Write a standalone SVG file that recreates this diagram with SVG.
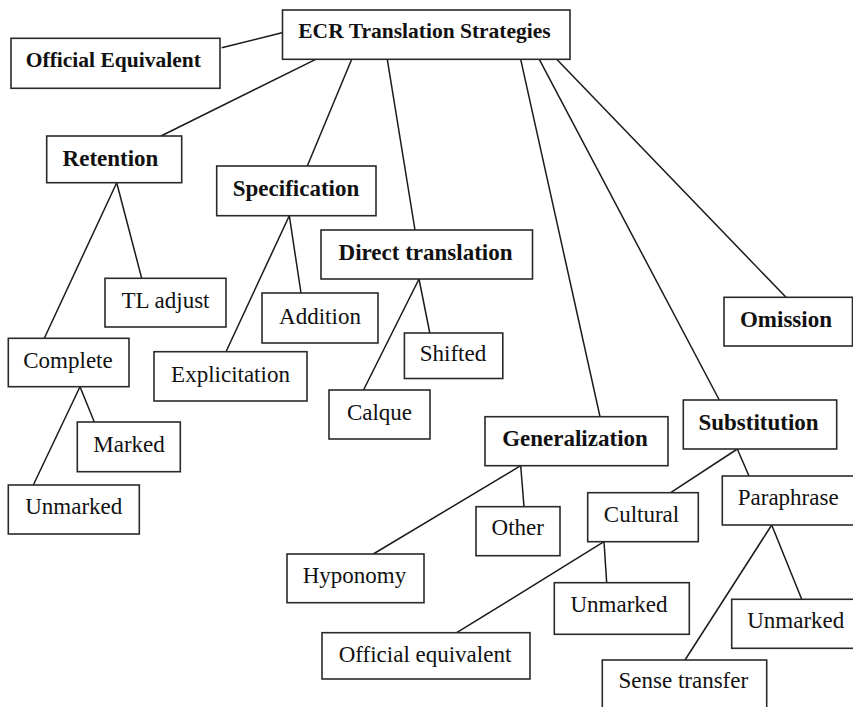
<svg xmlns="http://www.w3.org/2000/svg" width="853" height="707" viewBox="0 0 853 707">
<style>
  rect.box { fill: #ffffff; stroke: #2a2a2a; stroke-width: 1.6; }
  text { font-family: "Liberation Serif", "Times New Roman", serif; font-size: 23px; fill: #111111; text-anchor: middle; }
  text.b { font-weight: bold; }
  text.t { font-size: 21.5px; }
  #connectors line { stroke: #1a1a1a; stroke-width: 1.5; }
</style>
<rect x="0" y="0" width="853" height="707" fill="#ffffff"/>
<g id="connectors">
  <line x1="221.7" y1="47.7" x2="284" y2="32.3"/>
  <line x1="315.7" y1="59.3" x2="161" y2="136"/>
  <line x1="351.7" y1="59.3" x2="307.3" y2="166"/>
  <line x1="387.3" y1="59.3" x2="415" y2="230"/>
  <line x1="520.7" y1="59.3" x2="600" y2="416.7"/>
  <line x1="539.3" y1="59.3" x2="719.3" y2="400"/>
  <line x1="556.7" y1="59.3" x2="786" y2="297.3"/>
  <line x1="116.7" y1="182.7" x2="44.3" y2="338.3"/>
  <line x1="116.7" y1="182.7" x2="141.7" y2="278.3"/>
  <line x1="289.3" y1="215.7" x2="226" y2="351.7"/>
  <line x1="289.3" y1="215.7" x2="301" y2="293"/>
  <line x1="419" y1="279" x2="363.5" y2="390"/>
  <line x1="419" y1="279" x2="429.8" y2="333"/>
  <line x1="80" y1="386.7" x2="33.3" y2="485"/>
  <line x1="80" y1="386.7" x2="94.3" y2="422"/>
  <line x1="520.7" y1="465.7" x2="373.3" y2="554"/>
  <line x1="520.7" y1="465.7" x2="524" y2="506.7"/>
  <line x1="737.3" y1="449" x2="670.7" y2="492.7"/>
  <line x1="737.3" y1="449" x2="749" y2="476"/>
  <line x1="604" y1="541.7" x2="456.7" y2="632.7"/>
  <line x1="604" y1="541.7" x2="606.7" y2="582.7"/>
  <line x1="771.7" y1="525" x2="685" y2="660"/>
  <line x1="771.7" y1="525" x2="801.7" y2="599.3"/>
</g>
<g id="node-ecr"><rect class="box" x="282.5" y="10" width="287.5" height="49.3"/><text class="b t" x="424.5" y="37.5">ECR Translation Strategies</text></g>
<g id="node-official-equivalent-top"><rect class="box" x="11" y="38.3" width="209" height="50"/><text class="b t" x="113.3" y="66.7">Official Equivalent</text></g>
<g id="node-retention"><rect class="box" x="46.7" y="136" width="135" height="46.7"/><text class="b" x="110.5" y="165.7">Retention</text></g>
<g id="node-specification"><rect class="box" x="216.7" y="166" width="159.3" height="49.7"/><text class="b" x="296" y="196">Specification</text></g>
<g id="node-direct-translation"><rect class="box" x="321" y="230" width="211.5" height="49"/><text class="b" x="425.5" y="260">Direct translation</text></g>
<g id="node-tl-adjust"><rect class="box" x="105" y="278.3" width="121" height="48.7"/><text x="165.5" y="308.3">TL adjust</text></g>
<g id="node-addition"><rect class="box" x="262" y="293" width="116" height="50"/><text x="320" y="323.5">Addition</text></g>
<g id="node-omission"><rect class="box" x="724" y="297.3" width="128.5" height="48.7"/><text class="b" x="786" y="326.7">Omission</text></g>
<g id="node-complete"><rect class="box" x="8.3" y="338.3" width="120.7" height="48.4"/><text x="68" y="368.3">Complete</text></g>
<g id="node-shifted"><rect class="box" x="404.4" y="333" width="98.4" height="45.5"/><text x="453" y="361.2">Shifted</text></g>
<g id="node-explicitation"><rect class="box" x="154" y="351.7" width="153" height="49.3"/><text x="230.5" y="381.7">Explicitation</text></g>
<g id="node-calque"><rect class="box" x="329" y="390" width="101" height="49"/><text x="379.5" y="420">Calque</text></g>
<g id="node-generalization"><rect class="box" x="485" y="416.7" width="183" height="49"/><text class="b" x="575" y="446">Generalization</text></g>
<g id="node-substitution"><rect class="box" x="683.3" y="400" width="153.4" height="49"/><text class="b" x="758.5" y="430">Substitution</text></g>
<g id="node-marked"><rect class="box" x="77.3" y="422" width="103" height="49.7"/><text x="129" y="451.5">Marked</text></g>
<g id="node-unmarked-left"><rect class="box" x="8.3" y="485" width="131" height="49"/><text x="73.8" y="514.3">Unmarked</text></g>
<g id="node-cultural"><rect class="box" x="587.7" y="492.7" width="110.6" height="49"/><text x="641.5" y="521.7">Cultural</text></g>
<g id="node-paraphrase"><rect class="box" x="722.3" y="476" width="140" height="49"/><text x="788.2" y="505">Paraphrase</text></g>
<g id="node-other"><rect class="box" x="476" y="506.7" width="84" height="49"/><text x="517.8" y="535">Other</text></g>
<g id="node-hyponomy"><rect class="box" x="287" y="554" width="137" height="48.7"/><text x="354.5" y="583.3">Hyponomy</text></g>
<g id="node-unmarked-mid"><rect class="box" x="554.3" y="582.7" width="135" height="51.6"/><text x="619" y="611.7">Unmarked</text></g>
<g id="node-unmarked-right"><rect class="box" x="731.7" y="599.3" width="130" height="49"/><text x="795.8" y="628.3">Unmarked</text></g>
<g id="node-official-equivalent"><rect class="box" x="322" y="632.7" width="208" height="46.3"/><text x="425" y="661.7">Official equivalent</text></g>
<g id="node-sense-transfer"><rect class="box" x="602.3" y="660" width="164.4" height="55"/><text x="683.3" y="688.3">Sense transfer</text></g>
</svg>
